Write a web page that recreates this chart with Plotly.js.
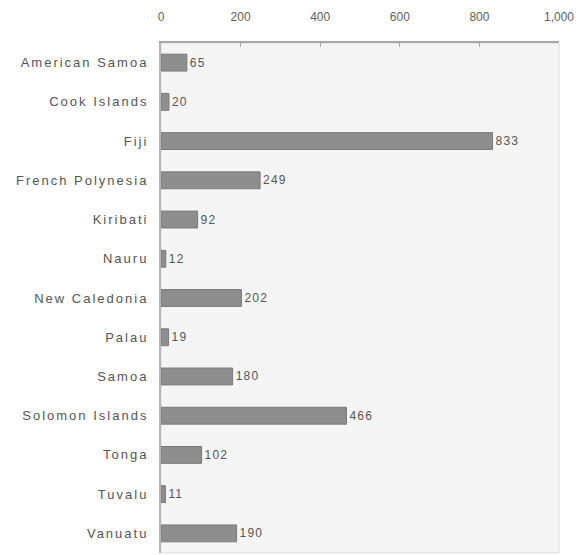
<!DOCTYPE html>
<html>
<head>
<meta charset="utf-8">
<script src="https://cdn.plot.ly/plotly-3.0.1.min.js"></script>
<style>
  html, body { margin: 0; padding: 0; background: #ffffff; }
  #chart { width: 584px; height: 555px; }
  .ytick text { letter-spacing: 2px; }
  text.bartext { letter-spacing: 1.2px; }
</style>
</head>
<body>
<div id="chart"></div>
<script>
const countries = ["American Samoa", "Cook Islands", "Fiji", "French Polynesia", "Kiribati", "Nauru",
  "New Caledonia", "Palau", "Samoa", "Solomon Islands", "Tonga", "Tuvalu", "Vanuatu"];
const population = [65, 20, 833, 249, 92, 12, 202, 19, 180, 466, 102, 11, 190];
const xTicks = [0, 200, 400, 600, 800, 1000];

const trace = {
  type: "bar",
  orientation: "h",
  y: countries,
  x: population,
  text: population.map(String),
  textposition: "outside",
  cliponaxis: false,
  textfont: { family: "Liberation Sans, Arial, sans-serif", size: 12, color: "#555555" },
  marker: { color: "#8e8e8e", line: { color: "#7a7a7a", width: 1 } },
  hoverinfo: "none"
};

const layout = {
  width: 584,
  height: 555,
  margin: { l: 161, r: 25, t: 43, b: 2, pad: 0 },
  paper_bgcolor: "#ffffff",
  plot_bgcolor: "#f5f5f5",
  showlegend: false,
  bargap: 0.57,
  font: { family: "Liberation Sans, Arial, sans-serif", size: 12, color: "#555555" },
  xaxis: {
    side: "top",
    range: [0, 1000],
    tickvals: xTicks,
    tickformat: ",",
    showgrid: false,
    zeroline: false,
    showline: true,
    linecolor: "#a8a8a8",
    linewidth: 2,
    ticks: "inside",
    ticklen: 4,
    tickcolor: "#a8a8a8",
    ticklabelstandoff: 15,
    tickfont: { size: 12, color: "#606060" }
  },
  yaxis: {
    autorange: "reversed",
    showgrid: false,
    zeroline: false,
    showline: true,
    linecolor: "#b5b5b5",
    linewidth: 2,
    ticks: "",
    ticklabelstandoff: 8,
    tickfont: { size: 13, color: "#555555" }
  },
  shapes: [{
    type: "rect", xref: "paper", yref: "paper", x0: 0, x1: 1, y0: 0, y1: 1,
    line: { color: "#dcdcdc", width: 1 }, fillcolor: "rgba(0,0,0,0)", layer: "below"
  }]
};

Plotly.newPlot("chart", [trace], layout, { displayModeBar: false, staticPlot: true });
</script>
</body>
</html>
